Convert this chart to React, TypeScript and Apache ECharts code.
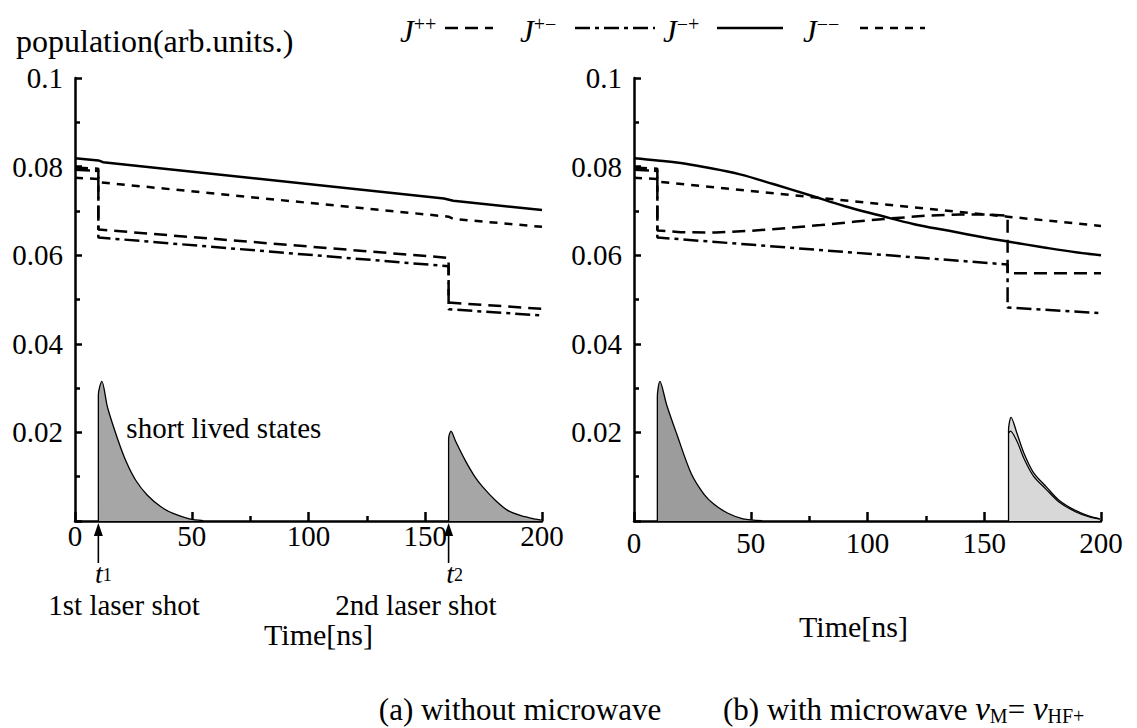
import React, { useEffect, useRef } from "react";
import * as echarts from "echarts";

const FONT = "'Liberation Serif', 'Times New Roman', Times, serif";

// Axis ranges / ticks
const timeMin = 0;
const timeMax = 200;
const timeStep = 50;
const popMin = 0;
const popMax = 0.1;
const popStep = 0.02;

// ---------- Panel (a) without microwave ----------
const tA_pp = [0, 10, 10, 160, 160, 200];
const vA_pp = [0.0798, 0.0795, 0.0658, 0.0594, 0.0493, 0.0479];

const tA_pm = [0, 10, 10, 160, 160, 200];
const vA_pm = [0.0793, 0.079, 0.064, 0.0575, 0.0478, 0.0464];

const tA_mp = [0, 10, 12, 158, 162, 200];
const vA_mp = [0.0819, 0.0814, 0.081, 0.0728, 0.0723, 0.0702];

const tA_mm = [0, 10, 10, 160, 162, 200];
const vA_mm = [0.0775, 0.0772, 0.0765, 0.0687, 0.0682, 0.0664];

// short lived states (vertical rise at the laser shot, then decay)
const tA_s1 = [10, 10, 11.5, 14, 18.4, 22, 26, 31, 36.8, 42, 49, 55];
const vA_s1 = [0, 0.0285, 0.0315, 0.0255, 0.0183, 0.0133, 0.0092, 0.0058, 0.0032, 0.0017, 0.0005, 0.0001];

const tA_s2 = [160, 160, 161, 163, 167, 171, 174.6, 180, 185.3, 191, 197.5, 200];
const vA_s2 = [0, 0.0185, 0.0203, 0.018, 0.0138, 0.0102, 0.0077, 0.0047, 0.0024, 0.0012, 0.0004, 0.0002];

// ---------- Panel (b) with microwave ----------
const tB_pp = [0, 10, 10, 20, 35, 50, 65, 80, 95, 110, 125, 140, 150, 160, 160, 200];
const vB_pp = [0.0798, 0.0795, 0.0656, 0.0652, 0.0651, 0.0655, 0.0661, 0.0668, 0.0676, 0.0683, 0.0689, 0.0692, 0.0692, 0.0689, 0.0559, 0.0559];

const tB_pm = [0, 10, 10, 160, 160, 200];
const vB_pm = [0.0793, 0.079, 0.064, 0.0579, 0.0482, 0.0469];

const tB_mp = [0, 10, 20, 30, 45, 60, 75, 90, 105, 120, 135, 150, 160, 175, 190, 200];
const vB_mp = [0.0819, 0.0814, 0.0808, 0.0799, 0.0783, 0.076, 0.0736, 0.0711, 0.069, 0.067, 0.0655, 0.064, 0.0631, 0.0618, 0.0606, 0.06];

const tB_mm = [0, 10, 10, 160, 200];
const vB_mm = [0.0775, 0.0772, 0.0766, 0.0687, 0.0666];

const tB_s1 = [10, 10, 11.1, 14, 18.2, 24.5, 30, 34, 40, 46.7, 55];
const vB_s1 = [0, 0.028, 0.0315, 0.0262, 0.0198, 0.0107, 0.006, 0.0039, 0.0018, 0.0005, 0.0001];

const tB_s2 = [160.4, 160.4, 161.5, 164, 167, 171, 176.6, 182, 189, 195, 199.5];
const vB_s2 = [0, 0.0205, 0.0234, 0.0198, 0.0153, 0.011, 0.0077, 0.0047, 0.0024, 0.0011, 0.0005];

const tB_s2in = [160.4, 161.2, 164, 167, 171, 176.6, 182, 189, 195, 199.5];
const vB_s2in = [0.0198, 0.0203, 0.018, 0.0141, 0.0102, 0.0071, 0.0043, 0.0021, 0.0009, 0.0004];

// Legend entries
const legendNames = ["J++", "J+−", "J−+", "J−−"];
const legendSup = ["++", "+−", "−+", "−−"];

// ---------- Layout ----------
const GA = { left: 75, top: 78, width: 467, height: 443 };
const GB = { left: 634, top: 78, width: 467, height: 443 };
const AXIS_Y = GA.top + GA.height;

const zip = (t: number[], v: number[]) => t.map((x, i) => [x, v[i]]);

const xA = (t: number) => GA.left + ((t - timeMin) / (timeMax - timeMin)) * GA.width;
const yA = (v: number) => GA.top + ((popMax - v) / (popMax - popMin)) * GA.height;

const DASH_PP = [13, 7];
const DASH_PM = [15, 5, 4, 5];
const DASH_MM = [8, 7];

function lineSeries(name: string, xi: number, data: number[][], type: any, smooth: number | boolean = false) {
  return {
    name,
    type: "line",
    xAxisIndex: xi,
    yAxisIndex: xi,
    data,
    symbol: "none",
    smooth,
    z: 5,
    lineStyle: { color: "#000", width: 2.5, type },
  };
}

function areaSeries(name: string, xi: number, data: number[][], fill: string) {
  return {
    name,
    type: "line",
    xAxisIndex: xi,
    yAxisIndex: xi,
    data,
    symbol: "none",
    smooth: 0.3,
    z: 3,
    lineStyle: { color: "#000", width: 1.3 },
    areaStyle: { color: fill, opacity: 1 },
  };
}

function xAxis(grid: number, labelMargin: number, nameGap: number, namePad: number[]) {
  return {
    type: "value",
    gridIndex: grid,
    min: timeMin,
    max: timeMax,
    interval: timeStep,
    name: "Time[ns]",
    nameLocation: "middle",
    nameGap,
    nameTextStyle: { fontFamily: FONT, fontSize: 30, color: "#000", padding: namePad },
    axisLine: { show: true, lineStyle: { color: "#000", width: 2.5 } },
    axisTick: { show: true, inside: true, length: 9, lineStyle: { color: "#000", width: 2.5 } },
    minorTick: { show: true, splitNumber: 2, length: 5, lineStyle: { color: "#000", width: 2.5 } },
    splitLine: { show: false },
    minorSplitLine: { show: false },
    axisLabel: {
      fontFamily: FONT,
      fontSize: 29,
      color: "#000",
      margin: labelMargin,
      formatter: (v: number) => String(v),
    },
  };
}

function yAxis(grid: number) {
  return {
    type: "value",
    gridIndex: grid,
    min: popMin,
    max: popMax,
    interval: popStep,
    axisLine: { show: true, lineStyle: { color: "#000", width: 2.5 } },
    axisTick: { show: true, inside: true, length: 7, lineStyle: { color: "#000", width: 2.5 } },
    minorTick: { show: true, splitNumber: 2, length: 5, lineStyle: { color: "#000", width: 2.5 } },
    splitLine: { show: false },
    minorSplitLine: { show: false },
    axisLabel: {
      fontFamily: FONT,
      fontSize: 29,
      color: "#000",
      margin: 12,
      formatter: (v: number) => (v === 0 ? "" : String(+v.toFixed(2))),
    },
  };
}

function legendGraphic() {
  const items = [
    { x: 400, x1: 445, x2: 493, dash: DASH_PP },
    { x: 520, x1: 575, x2: 655, dash: DASH_PM },
    { x: 663, x1: 717, x2: 783, dash: null },
    { x: 803, x1: 860, x2: 925, dash: DASH_MM },
  ];
  const els: any[] = [];
  items.forEach((it, i) => {
    els.push({
      type: "text",
      x: it.x,
      y: 31,
      style: {
        text: `{j|J}{s|${legendSup[i]}}`,
        verticalAlign: "middle",
        align: "left",
        fill: "#000",
        rich: {
          j: { fontFamily: FONT, fontStyle: "italic", fontSize: 31, lineHeight: 34, fill: "#000" },
          s: { fontFamily: FONT, fontSize: 20, lineHeight: 20, verticalAlign: "top", fill: "#000" },
        },
      },
    });
    els.push({
      type: "line",
      shape: { x1: it.x1, y1: 28, x2: it.x2, y2: 28 },
      style: { stroke: "#000", lineWidth: 2.6, lineDash: it.dash || undefined },
    });
  });
  return els;
}

function arrow(x: number) {
  return [
    {
      type: "line",
      shape: { x1: x, y1: AXIS_Y + 12, x2: x, y2: AXIS_Y + 42 },
      style: { stroke: "#000", lineWidth: 1.6 },
    },
    {
      type: "polygon",
      shape: { points: [[x, AXIS_Y + 2], [x - 4.5, AXIS_Y + 15], [x + 4.5, AXIS_Y + 15]] },
      style: { fill: "#000" },
    },
  ];
}

const subRich = {
  i: { fontFamily: FONT, fontStyle: "italic", fontSize: 28, lineHeight: 22, fill: "#000" },
  s: { fontFamily: FONT, fontSize: 18, lineHeight: 12, verticalAlign: "bottom", fill: "#000" },
};

function plainText(text: string, x: number, y: number, size: number, align = "left") {
  return {
    type: "text",
    x,
    y,
    style: { text, fontFamily: FONT, fontSize: size, fill: "#000", align, verticalAlign: "middle" },
  };
}

function buildOption() {
  const graphic: any[] = [
    plainText("population(arb.units.)", 16, 41, 32),
    ...legendGraphic(),
    plainText("short lived states", xA(22), yA(0.021), 29),
    ...arrow(xA(10)),
    ...arrow(xA(160)),
    {
      type: "text",
      x: xA(10) + 5,
      y: AXIS_Y + 52,
      style: { text: "{i|t}{s|1}", align: "center", verticalAlign: "middle", rich: subRich },
    },
    {
      type: "text",
      x: xA(160) + 6,
      y: AXIS_Y + 52,
      style: { text: "{i|t}{s|2}", align: "center", verticalAlign: "middle", rich: subRich },
    },
    plainText("1st laser shot", xA(21), AXIS_Y + 84, 29, "center"),
    plainText("2nd laser shot", xA(146), AXIS_Y + 84, 29, "center"),
    plainText("(a) without microwave", 520, 709, 31, "center"),
    {
      type: "text",
      x: 723,
      y: 709,
      style: {
        text: "(b) with microwave {v|ν}{sub|M}= {v|ν}{sub|HF+}",
        fontFamily: FONT,
        fontSize: 31,
        lineHeight: 34,
        fill: "#000",
        align: "left",
        verticalAlign: "middle",
        rich: {
          v: { fontFamily: FONT, fontStyle: "italic", fontSize: 33, lineHeight: 34, fill: "#000" },
          sub: { fontFamily: FONT, fontSize: 20, lineHeight: 20, verticalAlign: "bottom", fill: "#000" },
        },
      },
    },
  ];

  return {
    animation: false,
    backgroundColor: "#fff",
    textStyle: { fontFamily: FONT },
    grid: [
      { left: GA.left, top: GA.top, width: GA.width, height: GA.height, containLabel: false },
      { left: GB.left, top: GB.top, width: GB.width, height: GB.height, containLabel: false },
    ],
    xAxis: [xAxis(0, 0, 98, [0, 0, 0, 20]), xAxis(1, 7, 90, [0, 28, 0, 0])],
    yAxis: [yAxis(0), yAxis(1)],
    series: [
      areaSeries("short lived states (a1)", 0, zip(tA_s1, vA_s1), "#a6a6a6"),
      areaSeries("short lived states (a2)", 0, zip(tA_s2, vA_s2), "#a6a6a6"),
      lineSeries(legendNames[0], 0, zip(tA_pp, vA_pp), DASH_PP),
      lineSeries(legendNames[1], 0, zip(tA_pm, vA_pm), DASH_PM),
      lineSeries(legendNames[2], 0, zip(tA_mp, vA_mp), "solid"),
      lineSeries(legendNames[3], 0, zip(tA_mm, vA_mm), DASH_MM),
      areaSeries("short lived states (b1)", 1, zip(tB_s1, vB_s1), "#9c9c9c"),
      areaSeries("short lived states (b2)", 1, zip(tB_s2, vB_s2), "#d8d8d8"),
      {
        name: "short lived states (b2 inner)",
        type: "line",
        xAxisIndex: 1,
        yAxisIndex: 1,
        data: zip(tB_s2in, vB_s2in),
        symbol: "none",
        smooth: 0.3,
        z: 4,
        lineStyle: { color: "#000", width: 1.2 },
      },
      lineSeries(legendNames[0], 1, zip(tB_pp, vB_pp), DASH_PP),
      lineSeries(legendNames[1], 1, zip(tB_pm, vB_pm), DASH_PM),
      lineSeries(legendNames[2], 1, zip(tB_mp, vB_mp), "solid", 0.4),
      lineSeries(legendNames[3], 1, zip(tB_mm, vB_mm), DASH_MM),
    ],
    graphic,
  };
}

export default function App() {
  const ref = useRef<HTMLDivElement>(null);
  useEffect(() => {
    document.body.style.margin = "0";
    const chart = echarts.init(ref.current as HTMLDivElement, null, { renderer: "svg" });
    chart.setOption(buildOption() as any);
    return () => chart.dispose();
  }, []);
  return <div ref={ref} style={{ width: 1137, height: 728, background: "#fff" }} />;
}
